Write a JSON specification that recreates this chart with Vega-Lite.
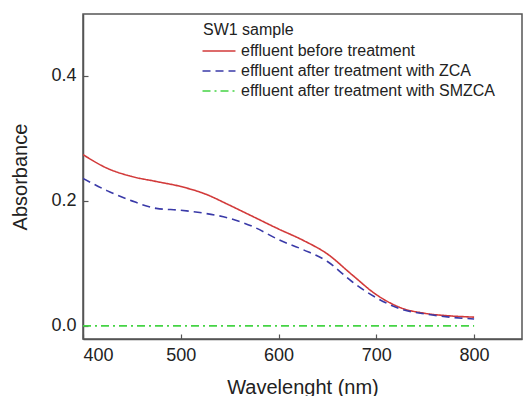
{
  "$schema": "https://vega.github.io/schema/vega-lite/v6.json",
  "width": 439,
  "height": 325,
  "autosize": "none",
  "padding": {"left": 83, "top": 14, "right": 3, "bottom": 57},
  "background": "white",
  "config": {
    "font": "Liberation Sans",
    "view": {"stroke": "#555555", "strokeWidth": 1.5},
    "axis": {
      "grid": false,
      "domainColor": "#555555",
      "domainWidth": 1.5,
      "tickColor": "#555555",
      "tickSize": -5,
      "tickWidth": 1.2,
      "labelFontSize": 18,
      "labelColor": "#222222",
      "titleFontSize": 20,
      "titleFontWeight": "normal",
      "titleColor": "#222222"
    }
  },
  "data": {
    "values": [
      {"wl": 400, "abs": 0.274, "series": "effluent before treatment"},
      {"wl": 425, "abs": 0.252, "series": "effluent before treatment"},
      {"wl": 450, "abs": 0.239, "series": "effluent before treatment"},
      {"wl": 475, "abs": 0.231, "series": "effluent before treatment"},
      {"wl": 500, "abs": 0.223, "series": "effluent before treatment"},
      {"wl": 525, "abs": 0.211, "series": "effluent before treatment"},
      {"wl": 550, "abs": 0.193, "series": "effluent before treatment"},
      {"wl": 575, "abs": 0.174, "series": "effluent before treatment"},
      {"wl": 600, "abs": 0.155, "series": "effluent before treatment"},
      {"wl": 625, "abs": 0.137, "series": "effluent before treatment"},
      {"wl": 650, "abs": 0.115, "series": "effluent before treatment"},
      {"wl": 675, "abs": 0.082, "series": "effluent before treatment"},
      {"wl": 700, "abs": 0.05, "series": "effluent before treatment"},
      {"wl": 725, "abs": 0.029, "series": "effluent before treatment"},
      {"wl": 750, "abs": 0.02, "series": "effluent before treatment"},
      {"wl": 775, "abs": 0.016, "series": "effluent before treatment"},
      {"wl": 800, "abs": 0.014, "series": "effluent before treatment"},
      {"wl": 400, "abs": 0.236, "series": "effluent after treatment with ZCA"},
      {"wl": 425, "abs": 0.216, "series": "effluent after treatment with ZCA"},
      {"wl": 450, "abs": 0.2, "series": "effluent after treatment with ZCA"},
      {"wl": 475, "abs": 0.188, "series": "effluent after treatment with ZCA"},
      {"wl": 500, "abs": 0.185, "series": "effluent after treatment with ZCA"},
      {"wl": 525, "abs": 0.18, "series": "effluent after treatment with ZCA"},
      {"wl": 550, "abs": 0.172, "series": "effluent after treatment with ZCA"},
      {"wl": 575, "abs": 0.158, "series": "effluent after treatment with ZCA"},
      {"wl": 600, "abs": 0.138, "series": "effluent after treatment with ZCA"},
      {"wl": 625, "abs": 0.122, "series": "effluent after treatment with ZCA"},
      {"wl": 650, "abs": 0.103, "series": "effluent after treatment with ZCA"},
      {"wl": 675, "abs": 0.071, "series": "effluent after treatment with ZCA"},
      {"wl": 700, "abs": 0.045, "series": "effluent after treatment with ZCA"},
      {"wl": 725, "abs": 0.027, "series": "effluent after treatment with ZCA"},
      {"wl": 750, "abs": 0.019, "series": "effluent after treatment with ZCA"},
      {"wl": 775, "abs": 0.014, "series": "effluent after treatment with ZCA"},
      {"wl": 800, "abs": 0.011, "series": "effluent after treatment with ZCA"},
      {"wl": 400, "abs": 0.0, "series": "effluent after treatment with SMZCA"},
      {"wl": 800, "abs": 0.0, "series": "effluent after treatment with SMZCA"}
    ]
  },
  "mark": {"type": "line", "interpolate": "monotone", "strokeWidth": 1.6, "clip": true},
  "encoding": {
    "x": {
      "field": "wl", "type": "quantitative",
      "title": "Wavelenght (nm)",
      "scale": {"domain": [400, 849], "nice": false, "zero": false},
      "axis": {"values": [400, 500, 600, 700, 800], "labelPadding": 12, "titlePadding": 13}
    },
    "y": {
      "field": "abs", "type": "quantitative",
      "title": "Absorbance",
      "scale": {"domain": [-0.021, 0.499], "nice": false, "zero": false},
      "axis": {"values": [0, 0.2, 0.4], "format": ".1f", "labelPadding": 12, "titlePadding": 20}
    },
    "color": {
      "field": "series", "type": "nominal",
      "sort": ["effluent before treatment", "effluent after treatment with ZCA", "effluent after treatment with SMZCA"],
      "scale": {
        "domain": ["effluent before treatment", "effluent after treatment with ZCA", "effluent after treatment with SMZCA"],
        "range": ["#d23a3a", "#3a3aa8", "#44d444"]
      },
      "legend": {
        "title": "SW1 sample",
        "orient": "none",
        "legendX": 120,
        "legendY": 8,
        "titleFontSize": 16,
        "titleFontWeight": "normal",
        "titleColor": "#222222",
        "titlePadding": 5,
        "labelFontSize": 16,
        "labelColor": "#222222",
        "labelLimit": 400,
        "symbolType": "M-4,0H4",
        "symbolSize": 68,
        "symbolOffset": 8,
        "symbolStrokeWidth": 1.6,
        "labelOffset": 14,
        "rowPadding": 4
      }
    },
    "strokeDash": {
      "field": "series", "type": "nominal",
      "scale": {
        "domain": ["effluent before treatment", "effluent after treatment with ZCA", "effluent after treatment with SMZCA"],
        "range": [[1, 0], [8, 5], [8, 4, 2, 4]]
      },
      "legend": null
    }
  }
}
